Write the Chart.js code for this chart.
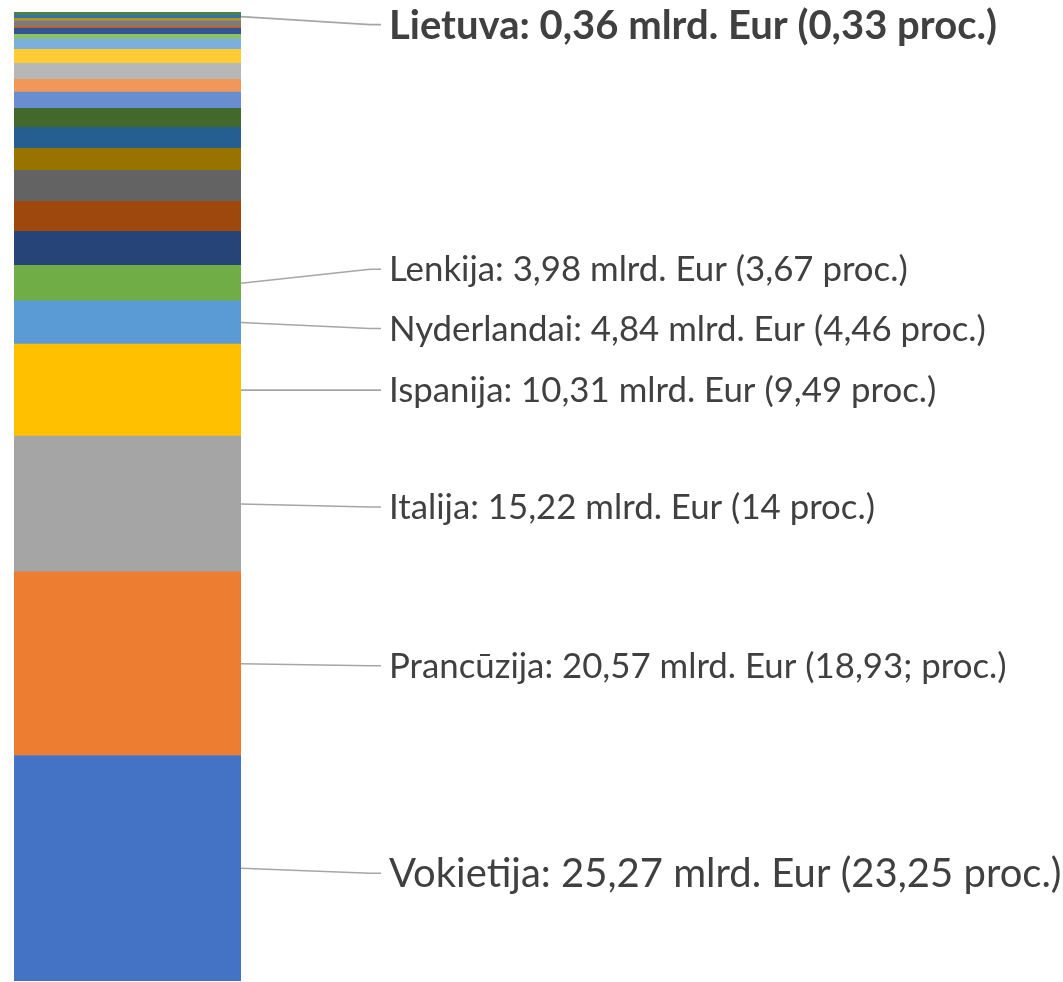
<!DOCTYPE html>
<html>
<head>
<meta charset="utf-8">
<script src="https://cdn.jsdelivr.net/npm/chart.js@4.4.1/dist/chart.umd.min.js"></script>
<style>
html, body { margin: 0; padding: 0; background: #ffffff; }
#wrap { position: relative; width: 1063px; height: 982px; }
</style>
</head>
<body>
<div id="wrap"><canvas id="c"></canvas></div>
<script>
// ---- data (mlrd. Eur), bottom to top of the stacked bar ----
const categories = ['ES'];
const segmentNames = ['Vokietija', 'Prancūzija', 'Italija', 'Ispanija', 'Nyderlandai', 'Lenkija',
  '', '', '', '', '', '', '', '', '', '', '', '', '', '', '', '', 'Lietuva', ''];
const segmentValues = [25.27, 20.57, 15.22, 10.31, 4.84, 3.98,
  3.81, 3.36, 3.48, 2.47, 2.35, 2.13, 1.83, 1.42, 1.79, 1.57, 1.15, 0.53, 0.67, 0.22, 0.67, 0.25, 0.36, 0.34];
const segmentPercents = ['23,25', '18,93;', '14', '9,49', '4,46', '3,67',
  '', '', '', '', '', '', '', '', '', '', '', '', '', '', '', '', '0,33', ''];

// ---- styles ----
const segmentColors = ['#4472C4', '#ED7D31', '#A5A5A5', '#FFC000', '#5B9BD5', '#70AD47',
  '#264478', '#9E480E', '#636363', '#997300', '#255E91', '#43682B',
  '#698ED0', '#F1975A', '#B7B7B7', '#FFCD33', '#7CAFDD', '#8CC168',
  '#2F5597', '#C55A11', '#7B7B7B', '#BF9000', '#2E75B6', '#548235'];
// label layout: dataset index -> line end offset from segment centre, font
const labelLayout = {
  0: { dy: 5, size: 40, bold: false },
  1: { dy: 2, size: 34.8, bold: false },
  2: { dy: 3, size: 34.8, bold: false },
  3: { dy: 0, size: 34.8, bold: false },
  4: { dy: 6, size: 34.8, bold: false },
  5: { dy: -14, size: 34.8, bold: false },
  22: { dy: 8, size: 40, bold: true }
};

function fmt(v) { return v.toFixed(2).replace('.', ','); }

const datasets = segmentValues.map((v, i) => ({
  label: segmentNames[i] || ('#' + (i + 1)),
  data: [v],
  backgroundColor: segmentColors[i],
  borderWidth: 0,
  barPercentage: 1,
  categoryPercentage: 1
}));

const total = segmentValues.reduce((a, b) => a + b, 0);

const leaderLabels = {
  id: 'leaderLabels',
  afterDatasetsDraw(chart) {
    const ctx = chart.ctx;
    ctx.save();
    Object.keys(labelLayout).forEach(k => {
      const i = +k;
      const L = labelLayout[i];
      const bar = chart.getDatasetMeta(i).data[0];
      const cy = (bar.y + bar.base) / 2;
      const right = bar.x + bar.width / 2;
      const ey = cy + L.dy;
      ctx.strokeStyle = '#A6A6A6';
      ctx.lineWidth = 1.6;
      ctx.beginPath();
      ctx.moveTo(right, cy);
      ctx.lineTo(370, ey);
      ctx.lineTo(381, ey);
      ctx.stroke();
      const text = segmentNames[i] + ': ' + fmt(segmentValues[i]) + ' mlrd. Eur (' + segmentPercents[i] + ' proc.)';
      ctx.fillStyle = '#404040';
      ctx.font = (L.bold ? 'bold ' : '') + L.size + 'px Lato, "Open Sans", sans-serif';
      ctx.textBaseline = 'middle';
      ctx.textAlign = 'left';
      ctx.fillText(text, 389, ey + 1);
    });
    ctx.restore();
  }
};

new Chart(document.getElementById('c'), {
  type: 'bar',
  data: { labels: categories, datasets },
  options: {
    responsive: true,
    maintainAspectRatio: false,
    animation: false,
    layout: { padding: { left: 14, right: 822, top: 12, bottom: 1 } },
    plugins: { legend: { display: false }, tooltip: { enabled: false } },
    scales: {
      x: { stacked: true, display: false },
      y: { stacked: true, display: false, min: 0, max: total }
    }
  },
  plugins: [leaderLabels]
});
</script>
</body>
</html>
